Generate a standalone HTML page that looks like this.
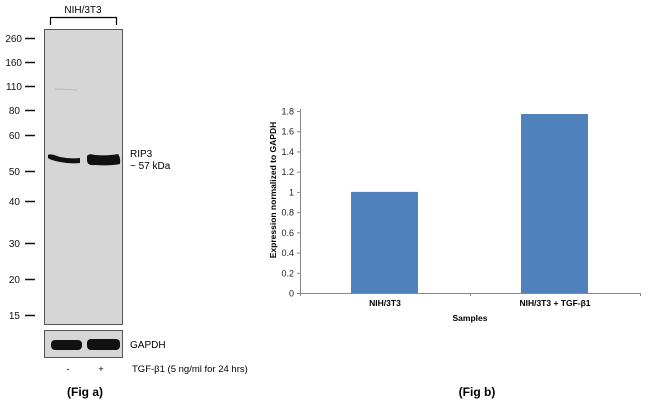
<!DOCTYPE html>
<html><head><meta charset="utf-8"><style>
body{margin:0;background:#fff;width:650px;height:406px;overflow:hidden;font-family:"Liberation Sans",sans-serif}
svg text{font-family:"Liberation Sans",sans-serif}
</style></head><body>
<svg width="650" height="406" viewBox="0 0 650 406">
<g>
<text x="83" y="13" font-size="10" text-anchor="middle">NIH/3T3</text>
<path d="M50.5 25V17.5H116.5V25" fill="none" stroke="#000" stroke-width="1.2"/>
<rect x="44.5" y="29.5" width="78" height="295" fill="#d6d6d6" stroke="#555"/>
<path d="M55 89 L78 90" stroke="#bbb" stroke-width="1"/>
<path d="M48 155 Q50 153 60 157 Q70 159 80 158 L80 163 Q70 164 60 162 Q50 160 48 158Z" fill="#111"/>
<path d="M87 156 Q89 153 95 155 Q108 156 118 154 Q121 158 120 164 Q110 166 95 165 Q87 166 87 160Z" fill="#111"/>
<rect x="44.5" y="330.5" width="78" height="27" fill="#d6d6d6" stroke="#555"/>
<rect x="51" y="340" width="31" height="10" rx="4" fill="#111"/>
<rect x="87" y="339" width="33" height="11" rx="4" fill="#111"/>
<g font-size="10" fill="#111" text-anchor="end">
<text x="22" y="42">260</text><line x1="25" y1="38.5" x2="35" y2="38.5" stroke="#111" stroke-width="1.5"/>
<text x="22" y="66">160</text><line x1="25" y1="62.5" x2="35" y2="62.5" stroke="#111" stroke-width="1.5"/>
<text x="22" y="90">110</text><line x1="25" y1="86.5" x2="35" y2="86.5" stroke="#111" stroke-width="1.5"/>
<text x="20" y="114">80</text><line x1="25" y1="110.5" x2="35" y2="110.5" stroke="#111" stroke-width="1.5"/>
<text x="20" y="139">60</text><line x1="25" y1="135.5" x2="35" y2="135.5" stroke="#111" stroke-width="1.5"/>
<text x="20" y="175">50</text><line x1="25" y1="171.5" x2="35" y2="171.5" stroke="#111" stroke-width="1.5"/>
<text x="20" y="205">40</text><line x1="25" y1="201.5" x2="35" y2="201.5" stroke="#111" stroke-width="1.5"/>
<text x="20" y="247">30</text><line x1="25" y1="243.5" x2="35" y2="243.5" stroke="#111" stroke-width="1.5"/>
<text x="20" y="283">20</text><line x1="25" y1="279.5" x2="35" y2="279.5" stroke="#111" stroke-width="1.5"/>
<text x="20" y="319">15</text><line x1="25" y1="315.5" x2="35" y2="315.5" stroke="#111" stroke-width="1.5"/>
</g>
<text x="130" y="157" font-size="10">RIP3</text>
<text x="130" y="169" font-size="10">~ 57 kDa</text>
<text x="130" y="348" font-size="10">GAPDH</text>
<text x="68" y="372" font-size="9" text-anchor="middle">-</text>
<text x="101" y="372" font-size="9" text-anchor="middle">+</text>
<text x="132" y="372" font-size="9.5">TGF-β1 (5 ng/ml for 24 hrs)</text>
<text x="85" y="396" font-size="12" font-weight="bold" text-anchor="middle">(Fig a)</text>
</g>
<g id="chart"></g>
<text x="477" y="396" font-size="12" font-weight="bold" text-anchor="middle">(Fig b)</text>
</svg>
<script>
const categories = ["NIH/3T3", "NIH/3T3 + TGF-β1"];
const values = [1.0, 1.77];
const yTicks = [0, 0.2, 0.4, 0.6, 0.8, 1, 1.2, 1.4, 1.6, 1.8];
const NS = "http://www.w3.org/2000/svg";
const g = document.getElementById("chart");
const x0 = 300, x1 = 640, yBase = 293, yTop = 111, yMax = 1.8;
const y = v => yBase - (v / yMax) * (yBase - yTop);
const bandW = (x1 - x0) / categories.length;
const xc = i => x0 + bandW * (i + 0.5);
function mk(tag, attrs, txt) {
  const e = document.createElementNS(NS, tag);
  for (const k in attrs) e.setAttribute(k, attrs[k]);
  if (txt !== undefined) e.textContent = txt;
  g.appendChild(e);
  return e;
}
let ax = mk("line", {x1: x0 + 0.5, y1: yTop - 2, x2: x0 + 0.5, y2: yBase, stroke: "#888"});


let bx = mk("line", {x1: x0, y1: yBase + 0.5, x2: x1, y2: yBase + 0.5, stroke: "#888"});


yTicks.forEach(t => {
  const tk = mk("line", {x1: x0 - 3, y1: y(t) + 0.5, x2: x0, y2: y(t) + 0.5, stroke: "#888"});
  
  
  const lb = mk("text", {x: x0 - 6, y: y(t) + 3.5, "font-size": 9, "text-anchor": "end", fill: "#222"}, String(t));
  
  
});
for (let i = 0; i <= categories.length; i++) {
  const tk = mk("line", {x1: x0 + bandW * i + 0.5, y1: yBase, x2: x0 + bandW * i + 0.5, y2: yBase + 3, stroke: "#888"});
  
  
}
categories.forEach((c, i) => {
  const w = 67;
  const b = mk("rect", {x: xc(i) - w / 2 - 0.5, y: y(values[i]), width: w, height: yBase - y(values[i]), fill: "#4f81bd"});
  
  
  const lb = mk("text", {x: xc(i), y: 306, "font-size": 8.5, "font-weight": "bold", "text-anchor": "middle"}, c);
  
  
});
const xt = mk("text", {x: (x0 + x1) / 2, y: 321, "font-size": 8.5, "font-weight": "bold", "text-anchor": "middle"}, "Samples");


const yt = mk("text", {x: 0, y: 0, "font-size": 8.5, "font-weight": "bold", "text-anchor": "middle", transform: "translate(276,190) rotate(-90)"}, "Expression  normalized to GAPDH");


</script>
</body></html>
